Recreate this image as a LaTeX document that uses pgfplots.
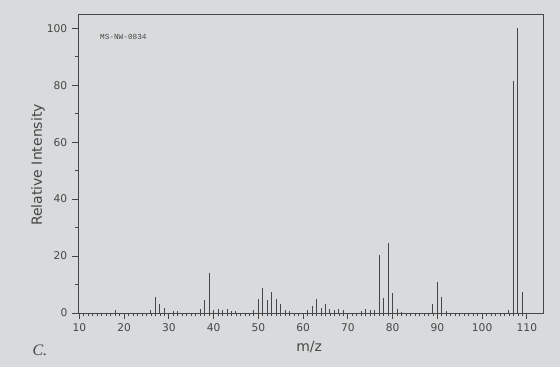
\documentclass[border=0pt]{standalone}
\usepackage{pgfplots}
\pgfplotsset{compat=1.18}
\usepackage{fontspec}
\setmainfont{DejaVu Sans}
\newfontfamily\monofont{Liberation Mono}
\newfontfamily\serifit{Liberation Serif}
\definecolor{paper}{RGB}{216,218,219}
\definecolor{ink}{RGB}{70,70,70}
\begin{document}
\begin{tikzpicture}
\useasboundingbox (-58.5pt,-40.5pt) rectangle (361.5pt,234.75pt);
\fill[paper] (-58.5pt,-40.5pt) rectangle (361.5pt,234.75pt);
\begin{axis}[
  at={(0pt,0pt)}, anchor=south west,
  scale only axis, width=348.75pt, height=224.25pt,
  xmin=9.7, xmax=113.6, ymin=0, ymax=105,
  xtick={10,20,...,110}, ytick={0,20,...,100},
  minor x tick num=9, minor y tick num=1,
  tick align=outside, xtick pos=bottom, ytick pos=left,
  major tick length=4.5pt, minor tick length=2.5pt,
  axis line style={ink, line width=0.7pt},
  every tick/.append style={ink, line width=0.6pt},
  tick label style={font=\fontsize{8}{9}\selectfont, text=ink},
  /pgf/number format/assume math mode=true,
  xlabel={m/z}, ylabel={Relative Intensity},
  label style={font=\fontsize{10.5}{12}\selectfont, text=ink},
  xlabel style={at={(axis description cs:0.497,-0.114)}, anchor=center},
  ylabel style={at={(axis description cs:-0.086,0.495)}, anchor=center},
  clip=false,
]
\addplot[ycomb, no marks, color=ink, line width=0.75pt] coordinates {
(18,1.2) (26,1.0) (27,5.7) (28,3.1) (29,1.6) (31,0.8) (32,0.8)
(37,1.5) (38,4.5) (39,14.0) (40,1.2) (41,1.5) (42,1.0) (43,1.5) (44,0.8) (45,0.8)
(49,1.0) (50,4.9) (51,8.8) (52,4.5) (53,7.2) (54,4.9) (55,3.0) (56,1.0) (57,0.6)
(61,1.2) (62,2.6) (63,5.0) (64,1.8) (65,3.3) (66,1.4) (67,1.0) (68,1.3) (69,0.9)
(73,0.8) (74,1.5) (75,1.0) (76,1.0) (77,20.5) (78,5.3) (79,24.5) (80,7.1) (81,1.4) (82,0.5)
(89,3.0) (90,11.0) (91,5.7) (92,0.8)
(106,1.0) (107,81.5) (108,100) (109,7.5)
};
\node[anchor=west, font=\monofont\fontsize{5.8}{7}\selectfont, text=ink] at (axis cs:13.6,96.8) {MS-NW-0834};
\node[font=\serifit\itshape\fontsize{12}{14}\selectfont, text=ink] at (axis description cs:-0.082,-0.124) {C.};
\end{axis}
\end{tikzpicture}
\end{document}
